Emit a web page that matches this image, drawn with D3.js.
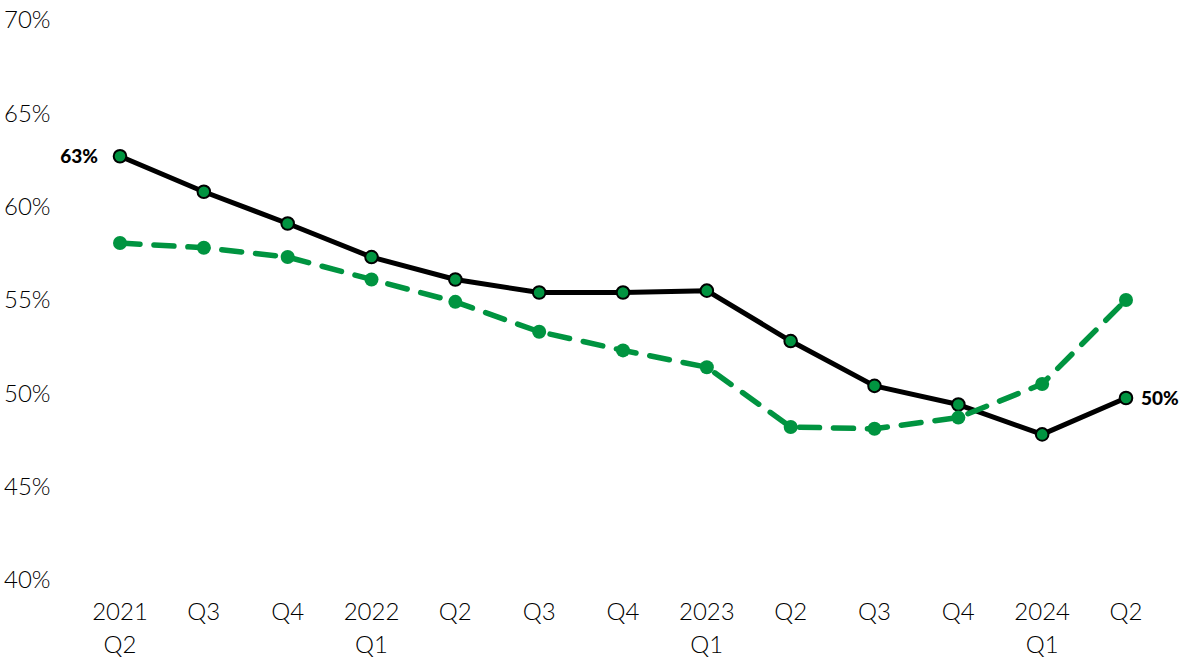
<!DOCTYPE html>
<html><head><meta charset="utf-8">
<script src="https://cdn.jsdelivr.net/npm/d3@7"></script>
<style>body{margin:0;background:#fff}svg{display:block}text{font-family:Lato,"Open Sans",sans-serif}</style>
</head><body>
<svg id="c" width="1183" height="660"></svg>
<script>
const categories = ["2021\nQ2","Q3","Q4","2022\nQ1","Q2","Q3","Q4","2023\nQ1","Q2","Q3","Q4","2024\nQ1","Q2"];
const seriesBlack = [62.7,60.8,59.1,57.3,56.1,55.4,55.4,55.5,52.8,50.4,49.4,47.8,49.75];
const seriesGreen = [58.05,57.8,57.3,56.1,54.9,53.3,52.3,51.4,48.2,48.1,48.7,50.5,55.0];
const yTicks = [40,45,50,55,60,65,70];
const GREEN = "#009440";

const svg = d3.select("#c");
const x = d3.scalePoint().domain(d3.range(categories.length)).range([120,1126]);
const y = d3.scaleLinear().domain([40,70]).range([580,20]);

// y labels
svg.append("g").selectAll("text").data(yTicks).join("text")
  .attr("x",4).attr("y",d=>y(d)).attr("dy","0.35em")
  .attr("font-size",24).attr("fill","#000").attr("font-weight",300)
  .text(d=>d+"%");

// x labels
const xl = svg.append("g").selectAll("text").data(categories).join("text")
  .attr("x",(d,i)=>x(i)).attr("y",620).attr("text-anchor","middle")
  .attr("font-size",24).attr("fill","#000").attr("font-weight",300);
xl.each(function(d){
  const t=d3.select(this); const parts=d.split("\n");
  parts.forEach((p,k)=>t.append("tspan").attr("x",t.attr("x")).attr("dy",k?33:0).text(p));
});

const line = d3.line().x((d,i)=>x(i)).y(d=>y(d));

// black series
svg.append("path").datum(seriesBlack).attr("d",line).attr("fill","none")
  .attr("stroke","#000").attr("stroke-width",5).attr("stroke-linejoin","round");
svg.append("g").selectAll("circle").data(seriesBlack).join("circle")
  .attr("cx",(d,i)=>x(i)).attr("cy",d=>y(d)).attr("r",6.3)
  .attr("fill",GREEN).attr("stroke","#000").attr("stroke-width",2);

// green series
svg.append("path").datum(seriesGreen).attr("d",line).attr("fill","none")
  .attr("stroke",GREEN).attr("stroke-width",5.5).attr("stroke-dasharray","20,14").attr("stroke-linecap","round");
svg.append("g").selectAll("circle").data(seriesGreen).join("circle")
  .attr("cx",(d,i)=>x(i)).attr("cy",d=>y(d)).attr("r",7).attr("fill",GREEN);

// end labels
svg.append("text").attr("x",x(0)-22).attr("y",y(seriesBlack[0])).attr("dy","0.35em")
  .attr("text-anchor","end").attr("font-size",19).attr("font-weight",900).attr("fill","#000")
  .text(Math.round(seriesBlack[0])+"%");
const last=seriesBlack.length-1;
svg.append("text").attr("x",x(last)+15).attr("y",y(seriesBlack[last])).attr("dy","0.35em")
  .attr("font-size",19).attr("font-weight",900).attr("fill","#000")
  .text(Math.round(seriesBlack[last])+"%");
</script>
</body></html>
